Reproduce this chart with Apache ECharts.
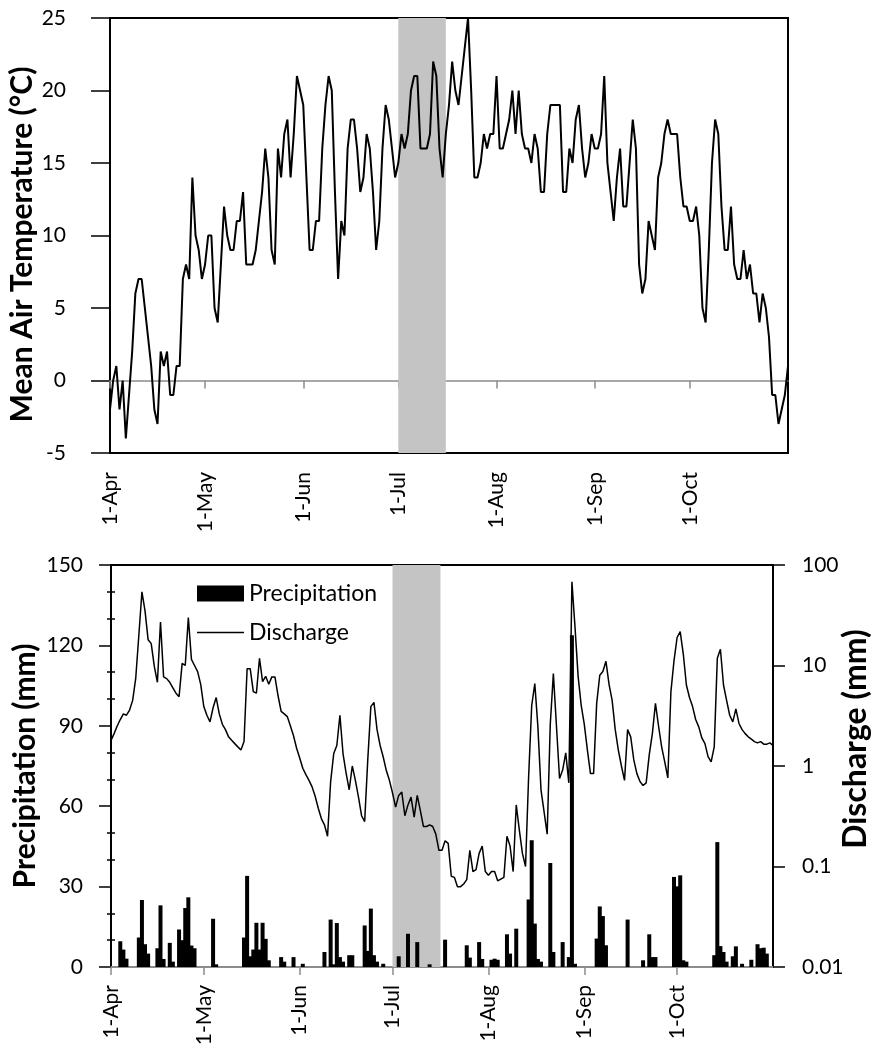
<!DOCTYPE html>
<html>
<head>
<meta charset="utf-8">
<script src="https://cdn.jsdelivr.net/npm/echarts@6/dist/echarts.min.js"></script>
<style>
  html, body { margin: 0; padding: 0; background: #fff; }
  #chart { width: 873px; height: 1058px; }
</style>
</head>
<body>
<div id="chart"></div>
<script>
// x categories: 1-Apr .. 1-Nov (daily)
const months = ['Apr', 'May', 'Jun', 'Jul', 'Aug', 'Sep', 'Oct', 'Nov']
const monthDays = [30, 31, 30, 31, 31, 30, 31, 1]
const days = []
months.forEach(function (m, i) {
  for (let d = 1; d <= monthDays[i]; d++) days.push(d + '-' + m)
})

// shaded period
const bandStart = '1-Jul'
const bandEnd = '16-Jul'

// mean air temperature (°C), one per day
const temperature = [
  -2, 0, 1, -2, 0, -4, -1, 2, 6, 7, 7, 5, 3, 1, -2, -3, 2, 1, 2, -1, -1, 1, 1, 7, 8, 7, 14, 10, 9, 7, // Apr
  8, 10, 10, 5, 4, 8, 12, 10, 9, 9, 11, 11, 13, 8, 8, 8, 9, 11, 13, 16, 14, 9, 8, 16, 14, 17, 18, 14, 17, 21, 20, // May
  19, 14, 9, 9, 11, 11, 16, 19, 21, 20, 13, 7, 11, 10, 16, 18, 18, 16, 13, 14, 17, 16, 13, 9, 11, 16, 19, 18, 16, 14, // Jun
  15, 17, 16, 17, 20, 21, 21, 16, 16, 16, 17, 22, 21, 16, 14, 17, 19, 22, 20, 19, 21, 23, 25, 20, 14, 14, 15, 17, 16, 17, 17, // Jul
  21, 16, 16, 17, 18, 20, 17, 20, 17, 16, 16, 15, 17, 16, 13, 13, 17, 19, 19, 19, 19, 13, 13, 16, 15, 18, 19, 16, 14, 15, 17, // Aug
  16, 16, 17, 21, 15, 13, 11, 14, 16, 12, 12, 15, 18, 16, 8, 6, 7, 11, 10, 9, 14, 15, 17, 18, 17, 17, 17, 14, 12, 12, // Sep
  11, 11, 12, 10, 5, 4, 9, 15, 18, 17, 12, 9, 9, 12, 8, 7, 7, 9, 7, 8, 6, 6, 4, 6, 5, 3, -1, -1, -3, -2, -1, // Oct
  1 // 1-Nov
]

// precipitation (mm)
const precipitation = [
  0, 0, 0, 9.6, 6.5, 3.1, 0, 0, 0, 11, 25, 8.5, 5, 0, 0, 7, 23, 3, 0, 9, 2, 0, 14, 10, 22, 26, 8, 7, 0, 0,
  0, 0, 0, 18, 1, 0, 0, 0, 0, 0, 0, 0, 0, 11, 34, 4, 6.5, 16.5, 6.5, 16.5, 10.5, 2.5, 0, 0, 0, 3.7, 2, 0, 0, 3.7, 0,
  0, 1.2, 0, 0, 0, 0, 0, 0, 5.6, 0, 17.7, 1, 16.4, 3.7, 2, 0, 4.4, 4.4, 0, 0, 0, 15.5, 6, 21.8, 4.4, 2, 0, 1.2, 0, 0,
  0, 0, 4, 0, 0, 12.4, 0, 0, 9.3, 0, 0, 0, 1, 0, 0, 0, 0, 10.2, 0, 0, 0, 0, 0, 0, 8.1, 3.5, 0, 0, 9.3, 3, 0,
  0, 2.7, 3.1, 2.7, 0, 0, 12.2, 5, 0, 14.3, 0, 0, 0, 25.2, 47.3, 16.2, 3, 2, 0, 0, 38.8, 5.6, 0, 0, 9.3, 0, 3.7, 123.8, 1.2, 0, 0,
  0, 0, 0, 0, 10.6, 22.6, 19, 8.1, 0, 0, 0, 0, 0, 0, 17.7, 0, 0, 0, 0, 2.5, 0, 12.2, 3.7, 3.7, 0, 0, 0, 0, 0, 33.6,
  30.1, 34.2, 2.5, 2, 0, 0, 0, 0, 0, 0, 0, 0, 4.4, 46.6, 7.8, 5.6, 2, 0, 4, 7.7, 0, 1.2, 0, 0, 2.7, 0, 8.5, 7, 7.2, 5, 0,
  0
]

// discharge (mm), log axis
const discharge = [
  1.8, 2.1, 2.5, 2.9, 3.3, 3.2, 3.6, 4.5, 7.5, 20, 54, 35, 18, 16.5, 9.8, 6.8, 27, 7.7, 7.4, 6.8, 6, 5.3, 4.9, 10.5, 10, 30, 11.5, 10, 8.7, 6.5,
  3.9, 3.2, 2.75, 3.8, 4.8, 3.3, 2.6, 2.3, 1.95, 1.8, 1.67, 1.55, 1.44, 1.75, 9.3, 9.3, 5.5, 5.3, 11.8, 6.9, 7.8, 6.5, 7.7, 7.7, 5, 3.5, 3.3, 3.1, 2.5, 2, 1.5,
  1.2, 0.95, 0.82, 0.72, 0.62, 0.5, 0.38, 0.3, 0.26, 0.2, 0.7, 1.33, 1.6, 3.2, 1.33, 0.85, 0.58, 1.0, 0.72, 0.49, 0.32, 0.28, 1.15, 3.9, 4.3, 2.3, 1.6, 1.23, 0.9, 0.72,
  0.54, 0.39, 0.51, 0.55, 0.32, 0.41, 0.49, 0.31, 0.51, 0.36, 0.25, 0.25, 0.26, 0.25, 0.21, 0.145, 0.145, 0.18, 0.17, 0.08, 0.078, 0.063, 0.063, 0.067, 0.074, 0.145, 0.089, 0.093, 0.135, 0.16, 0.089,
  0.082, 0.089, 0.089, 0.072, 0.075, 0.078, 0.2, 0.16, 0.089, 0.41, 0.23, 0.135, 0.1, 0.78, 4, 6.6, 2.45, 0.58, 0.35, 0.21, 2.6, 8.3, 2.5, 0.75, 0.91, 1.35, 0.68, 68, 24, 7.8, 4,
  2.6, 1.44, 0.84, 0.84, 4.2, 8, 8.7, 11, 6.5, 4.5, 2.3, 1.44, 1, 0.72, 2.3, 1.95, 1.15, 0.84, 0.7, 0.64, 0.68, 1.3, 2.1, 4.2, 2.5, 1.55, 1.1, 0.76, 5.5, 11.2,
  19, 21.7, 13, 6.4, 4.8, 3.9, 2.9, 2.45, 1.9, 1.67, 1.24, 1.1, 1.55, 11.8, 14.5, 6.4, 4.5, 3.2, 2.75, 3.7, 2.65, 2.3, 2.1, 1.95, 1.85, 1.75, 1.7, 1.75, 1.65, 1.65, 1.7,
  1.6
]

const FONT = 'Lato'
const isMonthStart = function (idx, val) {
  return val.indexOf('1-') === 0 && val !== '1-Nov'
}
const tickLabel = { fontFamily: FONT, fontSize: 21, color: '#000' }
const titleStyle = { fontFamily: FONT, fontSize: 30, fontWeight: 'bold', color: '#000' }
const gray = '#8c8c8c'

const chart = echarts.init(document.getElementById('chart'), null, { renderer: 'canvas' })
chart.setOption({
  animation: false,
  backgroundColor: '#fff',
  grid: [
    { left: 110, top: 18, width: 678, height: 435, outerBoundsMode: 'none', containLabel: false,
      show: true, borderColor: '#000', borderWidth: 2 },
    { left: 111, top: 565, width: 662, height: 402, outerBoundsMode: 'none', containLabel: false,
      show: true, borderColor: '#000', borderWidth: 2 }
  ],
  legend: {
    orient: 'vertical',
    left: 197,
    top: 582,
    padding: 0,
    itemWidth: 47,
    itemHeight: 16,
    itemGap: 16,
    symbolKeepAspect: true,
    textStyle: { fontFamily: FONT, fontSize: 23, color: '#000' },
    data: [
      { name: 'Precipitation', icon: 'rect' },
      { name: 'Discharge', icon: 'path://M0,0H60V2H0Z' }
    ]
  },
  xAxis: [
    { // zero line with month ticks
      type: 'category', gridIndex: 0, data: days, boundaryGap: false,
      axisLine: { onZero: true, lineStyle: { color: gray, width: 1.5 } },
      axisTick: { interval: isMonthStart, length: 8, lineStyle: { color: gray, width: 1.5 } },
      axisLabel: { show: false },
      splitLine: { show: false }
    },
    { // month labels under the top plot
      type: 'category', gridIndex: 0, data: days, boundaryGap: false, position: 'bottom',
      axisLine: { show: false, onZero: false },
      axisTick: { show: false },
      axisLabel: Object.assign({ interval: isMonthStart, rotate: 90, margin: 19 }, tickLabel),
      splitLine: { show: false }
    },
    {
      type: 'category', gridIndex: 1, data: days, boundaryGap: false,
      axisLine: { lineStyle: { color: gray, width: 2 } },
      axisTick: { interval: isMonthStart, length: 8, lineStyle: { color: gray, width: 1.5 } },
      axisLabel: Object.assign({ interval: isMonthStart, rotate: 90, margin: 18 }, tickLabel),
      splitLine: { show: false }
    }
  ],
  yAxis: [
    {
      type: 'value', gridIndex: 0, min: -5, max: 25, interval: 5,
      name: 'Mean Air Temperature (°C)', nameLocation: 'middle', nameRotate: 90, nameGap: 73,
      nameMoveOverlap: false,
      nameTextStyle: Object.assign({ padding: [0, 18, 0, 0] }, titleStyle),
      axisLine: { show: true, onZero: false, lineStyle: { color: '#000', width: 2 } },
      axisTick: { show: true, length: 19, lineStyle: { color: '#000', width: 1.5 } },
      axisLabel: Object.assign({ margin: 44 }, tickLabel),
      splitLine: { show: false }
    },
    {
      type: 'value', gridIndex: 1, min: 0, max: 150, interval: 30,
      name: 'Precipitation (mm)', nameLocation: 'middle', nameRotate: 90, nameGap: 71,
      nameMoveOverlap: false,
      nameTextStyle: titleStyle,
      axisLine: { show: true, onZero: false, lineStyle: { color: '#000', width: 2 } },
      axisTick: { show: true, length: 12, lineStyle: { color: '#000', width: 1.5 } },
      minorTick: { show: true, splitNumber: 3, length: 4, lineStyle: { color: '#000', width: 1.5 } },
      axisLabel: Object.assign({ margin: 28 }, tickLabel),
      splitLine: { show: false }
    },
    {
      type: 'log', logBase: 10, gridIndex: 1, min: 0.01, max: 100, position: 'right',
      name: 'Discharge (mm)', nameLocation: 'middle', nameRotate: 90, nameGap: 67,
      nameMoveOverlap: false,
      nameTextStyle: Object.assign({}, titleStyle, { fontSize: 32, padding: [0, 0, 0, 54] }),
      axisLine: { show: true, onZero: false, lineStyle: { color: '#000', width: 2 } },
      axisTick: { show: true, length: 12, lineStyle: { color: '#000', width: 1.5 } },
      axisLabel: Object.assign({
        margin: 29,
        formatter: function (v) { return String(Number(v.toPrecision(2))) }
      }, tickLabel),
      splitLine: { show: false }
    },
    { // inner half of the cross-style minor ticks on the precipitation axis
      type: 'value', gridIndex: 1, min: 0, max: 150, interval: 30, position: 'left',
      axisLine: { show: false, onZero: false },
      axisTick: { show: false, inside: true },
      minorTick: { show: true, splitNumber: 3, length: 4, lineStyle: { color: '#000', width: 1.5 } },
      axisLabel: { show: false },
      splitLine: { show: false }
    }
  ],
  series: [
    {
      name: 'Temperature',
      type: 'line',
      xAxisIndex: 0,
      yAxisIndex: 0,
      data: temperature,
      symbol: 'none',
      lineStyle: { color: '#000', width: 2 },
      itemStyle: { color: '#000' },
      markArea: {
        silent: true,
        itemStyle: { color: '#c4c4c4' },
        data: [[{ xAxis: bandStart }, { xAxis: bandEnd }]]
      }
    },
    {
      name: 'Precipitation',
      type: 'bar',
      xAxisIndex: 2,
      yAxisIndex: 1,
      data: precipitation,
      barWidth: 4,
      itemStyle: { color: '#000' },
      markArea: {
        silent: true,
        itemStyle: { color: '#c4c4c4' },
        data: [[{ xAxis: bandStart }, { xAxis: bandEnd }]]
      }
    },
    {
      name: 'Discharge',
      type: 'line',
      xAxisIndex: 2,
      yAxisIndex: 2,
      data: discharge,
      symbol: 'none',
      lineStyle: { color: '#000', width: 1.5 },
      itemStyle: { color: '#000' }
    }
  ]
})
window.addEventListener('resize', function () { chart.resize() })
</script>
</body>
</html>
